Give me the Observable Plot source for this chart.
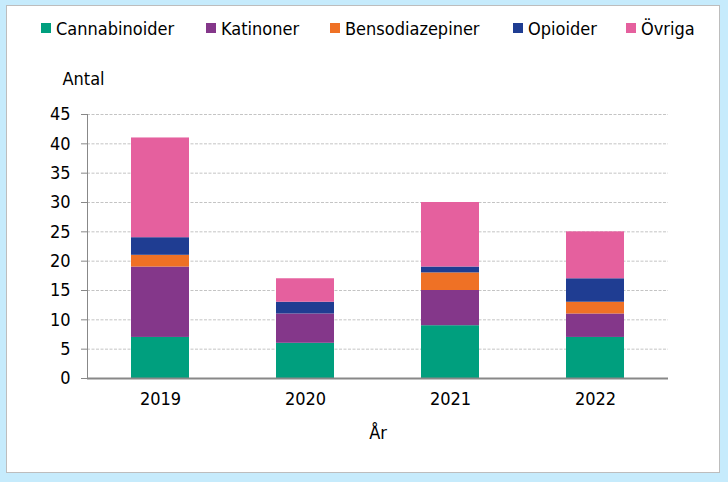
<!DOCTYPE html>
<html>
<head>
<meta charset="utf-8">
<script src="https://cdn.jsdelivr.net/npm/d3@7"></script>
<script src="https://cdn.jsdelivr.net/npm/@observablehq/plot@0.6"></script>
<style>
  html, body { margin: 0; padding: 0; }
  body { width: 728px; height: 482px; background: #c6ebfc; position: relative; overflow: hidden;
         font-family: "DejaVu Sans Condensed", "DejaVu Sans", sans-serif; }
  #panel { position: absolute; left: 6px; top: 5px; width: 712px; height: 466px; background: #ffffff;
           border: 1px solid #bdbdbd; }
  #chart { position: absolute; left: 0; top: 0; }
  #legend { position: absolute; left: 0; top: 0; width: 728px; height: 60px; }
  .item { position: absolute; top: 17px; height: 22px; display: flex; align-items: center;
          font-size: 18px; color: #000; white-space: nowrap; }
  .sw { width: 10px; height: 10px; margin-right: 5px; }
</style>
</head>
<body>
<div id="panel"></div>
<div id="chart"></div>
<div id="legend"></div>
<script>
const years = ["2019", "2020", "2021", "2022"];
const categories = ["Cannabinoider", "Katinoner", "Bensodiazepiner", "Opioider", "Övriga"];
const colors = ["#009f7e", "#84378a", "#ef7125", "#1f3d92", "#e5609e"];
const cannabinoider = [7, 6, 9, 7];
const katinoner = [12, 5, 6, 4];
const bensodiazepiner = [2, 0, 3, 2];
const opioider = [3, 2, 1, 4];
const ovriga = [17, 4, 11, 8];
const yTicks = [0, 5, 10, 15, 20, 25, 30, 35, 40, 45];
const legendLeft = [41, 206, 330, 513, 626];

const seriesValues = [cannabinoider, katinoner, bensodiazepiner, opioider, ovriga];
const data = [];
categories.forEach((c, ci) => {
  years.forEach((y, yi) => data.push({year: y, category: c, value: seriesValues[ci][yi]}));
});

const chart = Plot.plot({
  width: 728,
  height: 482,
  marginTop: 114,
  marginBottom: 104,
  marginLeft: 87,
  marginRight: 60,
  style: {background: "transparent", fontFamily: "'DejaVu Sans Condensed', 'DejaVu Sans', sans-serif", fontSize: "18px", color: "#000"},
  x: {domain: years, paddingInner: 0.6, paddingOuter: 0.3},
  y: {domain: [0, 45]},
  color: {domain: categories, range: colors},
  marks: [
    Plot.gridY(yTicks.slice(1), {stroke: "#c4c4c4", strokeOpacity: 1, strokeDasharray: "3,1.5", strokeWidth: 1}),
    Plot.barY(data, {x: "year", y: "value", fill: "category", inset: 0}),
    Plot.frame({anchor: "left", stroke: "#888888"}),
    Plot.ruleY([0], {stroke: "#888888", strokeWidth: 2}),
    Plot.axisY({ticks: yTicks, tickSize: 6, tickPadding: 11, stroke: "#888888", label: null, fill: "#000", fontSize: 18}),
    Plot.axisX({tickSize: 0, tickPadding: 14, label: null, fill: "#000", fontSize: 18}),
    Plot.text(["Antal"], {frameAnchor: "top-left", dx: -25, dy: -35, textAnchor: "start", lineAnchor: "middle", fontSize: 18, fill: "#000"}),
    Plot.text(["År"], {frameAnchor: "bottom", dy: 55, lineAnchor: "middle", fontSize: 18, fill: "#000"})
  ]
});
document.getElementById("chart").appendChild(chart);

const legend = document.getElementById("legend");
categories.forEach((c, i) => {
  const item = document.createElement("div");
  item.className = "item";
  item.style.left = legendLeft[i] + "px";
  const sw = document.createElement("span");
  sw.className = "sw";
  sw.style.background = colors[i];
  const label = document.createElement("span");
  label.textContent = c;
  item.appendChild(sw);
  item.appendChild(label);
  legend.appendChild(item);
});
</script>
</body>
</html>
